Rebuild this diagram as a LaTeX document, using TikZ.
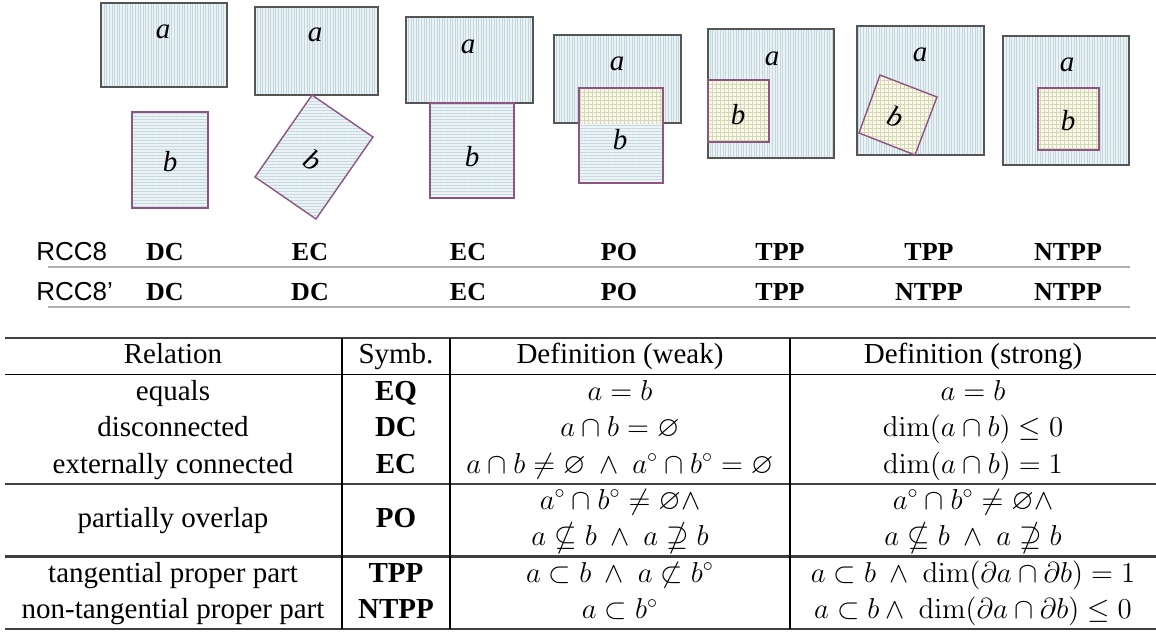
\documentclass[tikz,border=0pt]{standalone}
\usepackage{amssymb}
\usepackage[no-math]{fontspec}
\setmainfont{Liberation Serif}
\setsansfont{Liberation Sans}
\usetikzlibrary{patterns.meta}

\definecolor{afill}{RGB}{234,243,246}
\definecolor{ahatch}{RGB}{198,214,221}
\definecolor{aedge}{RGB}{85,85,85}
\definecolor{bedge}{RGB}{140,85,130}
\definecolor{ovfill}{RGB}{250,250,228}
\definecolor{ovgrid}{RGB}{212,215,190}
\definecolor{rule}{RGB}{175,175,175}

\begin{document}
\begin{tikzpicture}[x=0.5pt,y=-0.5pt,
  regiona/.style={preaction={fill=afill},pattern={Lines[angle=90,distance=1.3pt,line width=0.25pt]},pattern color=ahatch},
  regionb/.style={preaction={fill=afill},pattern={Lines[angle=0,distance=1.5pt,line width=0.25pt]},pattern color=ahatch},
  overlap/.style={preaction={fill=ovfill},pattern={Hatch[angle=0,distance=2pt,line width=0.25pt]},pattern color=ovgrid},
  edgea/.style={draw=aedge,line width=1pt},
  edgeb/.style={draw=bedge,line width=0.7pt},
  lbl/.style={font=\fontsize{14.5}{17}\selectfont\itshape},
  rcclabel/.style={font=\fontsize{13}{15}\selectfont\sffamily,anchor=base west,inner sep=0pt},
  rcc/.style={font=\fontsize{13}{15}\selectfont\bfseries,anchor=base,inner sep=0pt},
  cell/.style={font=\fontsize{14.5}{17}\selectfont,anchor=base,inner sep=0pt},
  bcell/.style={cell,font=\fontsize{14.5}{17}\selectfont\bfseries},
  thickrule/.style={line width=1.1pt,black!75},
  thinrule/.style={line width=0.6pt,black}]
  \useasboundingbox (0,0) rectangle (1156,632);

  % DC
  \path[regiona,edgea] (101,3) rectangle (227,87);
  \path[regionb,edgeb] (132,112) rectangle (208,208);
  \node[lbl] (a1) at (163,32) {a};
  \node[lbl] (b1) at (170,162) {b};

  % EC, corner on edge
  \path[regiona,edgea] (255,7) rectangle (378,95);
  \path[regionb,edgeb] (312,95) -- (373,137) -- (316,219) -- (255,177) -- cycle;
  \node[lbl] (a2) at (315,35) {a};
  \node[lbl,rotate=-34] (b2) at (313,160) {b};

  % EC, edge on edge
  \path[regiona,edgea] (406,17) rectangle (533,103);
  \path[regionb,edgeb] (430,103) rectangle (514,198);
  \node[lbl] (a3) at (468,47) {a};
  \node[lbl] (b3) at (472,157) {b};

  % PO
  \path[regiona,edgea] (554,35) rectangle (681,123);
  \path[regionb] (579,88) rectangle (663,183);
  \path[overlap] (579,88) rectangle (663,123);
  \draw[edgeb] (579,88) rectangle (663,183);
  \node[lbl] (a4) at (617,64) {a};
  \node[lbl] (b4) at (620,140) {b};

  % TPP
  \path[regiona,edgea] (708,29) rectangle (834,158);
  \path[overlap,edgeb] (708,80) rectangle (769,142);
  \node[lbl] (a5) at (772,59) {a};
  \node[lbl] (b5) at (738,115) {b};

  % TPP, corner on edge
  \path[regiona,edgea] (857,26) rectangle (984,155);
  \path[overlap,edgeb] (880,75) -- (937,97) -- (915,155) -- (859,133) -- cycle;
  \node[lbl] (a6) at (920,55) {a};
  \node[lbl,rotate=-21] (b6) at (896,117) {b};

  % NTPP
  \path[regiona,edgea] (1003,36) rectangle (1129,165);
  \path[overlap,edgeb] (1038,88) rectangle (1099,150);
  \node[lbl] (a7) at (1067,65) {a};
  \node[lbl] (b7) at (1068,121) {b};

  % relation rows
  \node[rcclabel] (rcc) at (36,260) {RCC8};
  \node[rcclabel] (rccp) at (36,300) {RCC8'};
  \foreach \x/\t [count=\i] in {165/DC,310/EC,468/EC,619/PO,780/TPP,929/TPP,1068/NTPP}
    \node[rcc] (p\i) at (\x,260) {\t};
  \foreach \x/\t [count=\i] in {165/DC,310/DC,468/EC,619/PO,780/TPP,929/NTPP,1068/NTPP}
    \node[rcc] (q\i) at (\x,300) {\t};
  \draw[rule,line width=0.8pt] (48,267) -- (1130,267);
  \draw[rule,line width=0.8pt] (48,307) -- (1130,307);

  % table
  \draw[thickrule] (5,338) -- (1156,338);
  \draw[thinrule] (5,374.4) -- (1156,374.4);
  \draw[thickrule] (5,483.6) -- (1156,483.6);
  \draw[thickrule] (5,556.4) -- (1156,556.4);
  \draw[thickrule] (5,629) -- (1156,629);
  \foreach \x in {342,450,790}
    \draw[thinrule] (\x,338) -- (\x,629);

  \node[cell] (h1) at (173,363.5) {Relation};
  \node[cell] (h2) at (396,363.5) {Symb.};
  \node[cell] (h3) at (620,363.5) {Definition (weak)};
  \node[cell] (h4) at (973,363.5) {Definition (strong)};

  \node[cell] (eq1) at (173,400) {equals};
  \node[bcell] (eq2) at (396,400) {EQ};
  \node[cell] (eq3) at (620,400) {$a=b$};
  \node[cell] (eq4) at (973,400) {$a=b$};

  \node[cell] (dc1) at (173,436.5) {disconnected};
  \node[bcell] (dc2) at (396,436.5) {DC};
  \node[cell] (dc3) at (620,436.5) {$a\cap b=\varnothing$};
  \node[cell] (dc4) at (973,436.5) {$\dim(a\cap b)\le 0$};

  \node[cell] (ec1) at (173,473) {externally connected};
  \node[bcell] (ec2) at (396,473) {EC};
  \node[cell] (ec3) at (620,473) {$a\cap b\neq\varnothing\ \wedge\ a^\circ\cap b^\circ=\varnothing$};
  \node[cell] (ec4) at (973,473) {$\dim(a\cap b)=1$};

  \node[cell] (po1) at (173,527) {partially overlap};
  \node[bcell] (po2) at (396,527) {PO};
  \node[cell] (po3) at (620,509) {$a^\circ\cap b^\circ\neq\varnothing\wedge$};
  \node[cell] (po3b) at (620,545.5) {$a\nsubseteq b\ \wedge\ a\nsupseteq b$};
  \node[cell] (po4) at (973,509) {$a^\circ\cap b^\circ\neq\varnothing\wedge$};
  \node[cell] (po4b) at (973,545.5) {$a\nsubseteq b\ \wedge\ a\nsupseteq b$};

  \node[cell] (tpp1) at (173,582) {tangential proper part};
  \node[bcell] (tpp2) at (396,582) {TPP};
  \node[cell] (tpp3) at (620,582) {$a\subset b\ \wedge\ a\not\subset b^\circ$};
  \node[cell] (tpp4) at (973,582) {$a\subset b\ \wedge\ \dim(\partial a\cap\partial b)=1$};

  \node[cell] (ntpp1) at (173,618.5) {non-tangential proper part};
  \node[bcell] (ntpp2) at (396,618.5) {NTPP};
  \node[cell] (ntpp3) at (620,618.5) {$a\subset b^\circ$};
  \node[cell] (ntpp4) at (973,618.5) {$a\subset b\wedge\ \dim(\partial a\cap\partial b)\le 0$};
\end{tikzpicture}
\end{document}
